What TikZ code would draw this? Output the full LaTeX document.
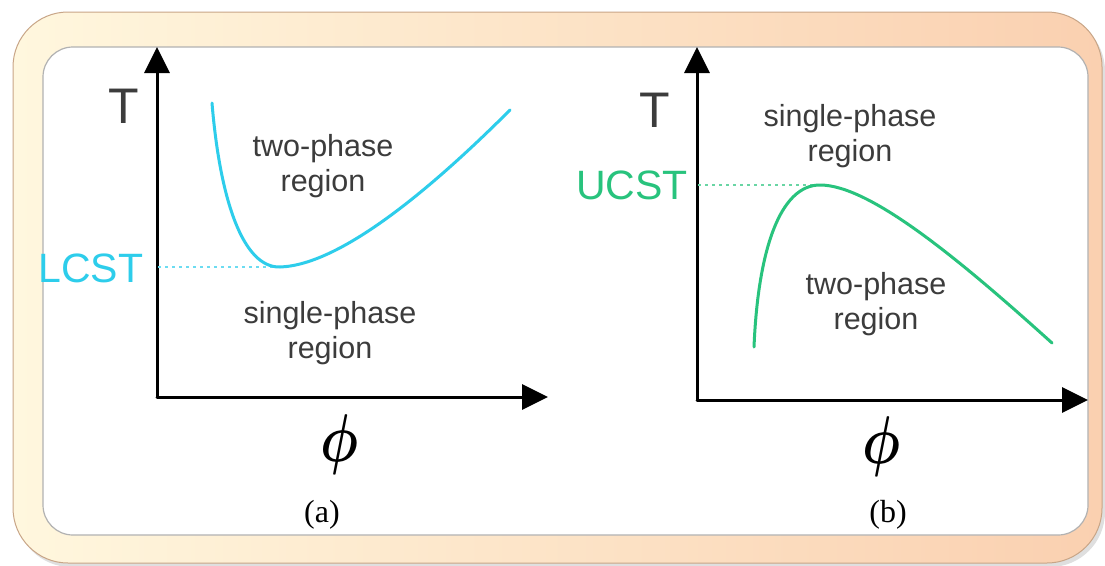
\documentclass[tikz,border=0pt]{standalone}
\usepackage{fontspec}
\usepackage{amsmath}
\usepackage{bm}
\usepackage{graphicx}
\usetikzlibrary{arrows.meta}
\setmainfont{Liberation Sans}
\newfontfamily\tmsfont{Liberation Serif}
\definecolor{txtgray}{RGB}{60,60,60}
\definecolor{lcstcol}{RGB}{45,205,235}
\definecolor{ucstcol}{RGB}{40,195,125}
\definecolor{framel}{RGB}{255,247,222}
\definecolor{framer}{RGB}{250,208,176}
\definecolor{frameedge}{RGB}{200,165,135}
\tikzset{
  axis/.style={line width=3pt, line cap=round, line join=round, -{Triangle[length=26pt,width=25pt]}},
  region/.style={text=txtgray, align=center, font=\fontsize{30.5}{35}\selectfont},
  axlabel/.style={text=txtgray, font=\fontsize{50}{50}\selectfont},
  critlabel/.style={font=\fontsize{41}{41}\selectfont},
  philabel/.style={inner sep=0pt},
  panel/.style={font=\tmsfont\fontsize{32}{32}\selectfont},
  guide/.style={line width=1.2pt, dash pattern=on 3pt off 4pt},
  curve/.style={line width=3pt, line cap=round}
}
\newcommand{\bigphi}{\resizebox*{38pt}{60pt}{$\bm{\phi}$}}
\begin{document}
\begin{tikzpicture}[x=1pt,y=-1pt]
\useasboundingbox (0,0) rectangle (1105,565);
% frame
\fill[gray!25] (16,16) [rounded corners=55pt] rectangle (1105,567);
\shade[left color=framel, right color=framer, rounded corners=55pt] (13,12) rectangle (1102,563);
\draw[frameedge, line width=1pt, rounded corners=55pt] (13,12) rectangle (1102,563);
\fill[white, draw=gray!60, line width=1.2pt, rounded corners=30pt] (43,47) rectangle (1088,535);

% ---------- panel (a) ----------
\coordinate (oa) at (157,397);
\coordinate (ya) at (157,47);
\coordinate (xa) at (548,397);
\draw[axis] (oa) -- (ya);
\draw[axis] (oa) -- (xa);
\node[axlabel] (Ta) at (124,106) {T};
\node[philabel] (phia) at (340,445) {\bigphi};
\node[panel] (pa) at (322,515) {(a)};
\node[critlabel, text=lcstcol] (lcst) at (91,268) {LCST};
\coordinate (lmin) at (280,267);
\coordinate (la) at (158,267);
\draw[guide, lcstcol!70] (la) -- (lmin);
\coordinate (lstart) at (212,103);
\coordinate (lend) at (510,110);
\draw[curve, lcstcol] (lstart) .. controls (220,200) and (243,268) .. (lmin)
   .. controls (340,265) and (430,190) .. (lend);
\node[region] (tpa) at (323,166) {two-phase\\region};
\node[region] (spa) at (330,333) {single-phase\\region};

% ---------- panel (b) ----------
\coordinate (ob) at (697,400);
\coordinate (yb) at (697,47);
\coordinate (xb) at (1088,400);
\draw[axis] (ob) -- (yb);
\draw[axis] (ob) -- (xb);
\node[axlabel] (Tb) at (655,110) {T};
\node[philabel] (phib) at (881,447) {\bigphi};
\node[panel] (pb) at (888,515) {(b)};
\node[critlabel, text=ucstcol] (ucst) at (632,185) {UCST};
\coordinate (umax) at (820,185);
\coordinate (ub) at (698,185);
\draw[guide, ucstcol!70] (ub) -- (umax);
\coordinate (ustart) at (754,347);
\coordinate (uend) at (1052,343);
\draw[curve, ucstcol] (ustart) .. controls (758,250) and (780,185) .. (umax)
   .. controls (870,185) and (960,260) .. (uend);
\node[region] (spb) at (850,136) {single-phase\\region};
\node[region] (tpb) at (876,304) {two-phase\\region};
\end{tikzpicture}
\end{document}
